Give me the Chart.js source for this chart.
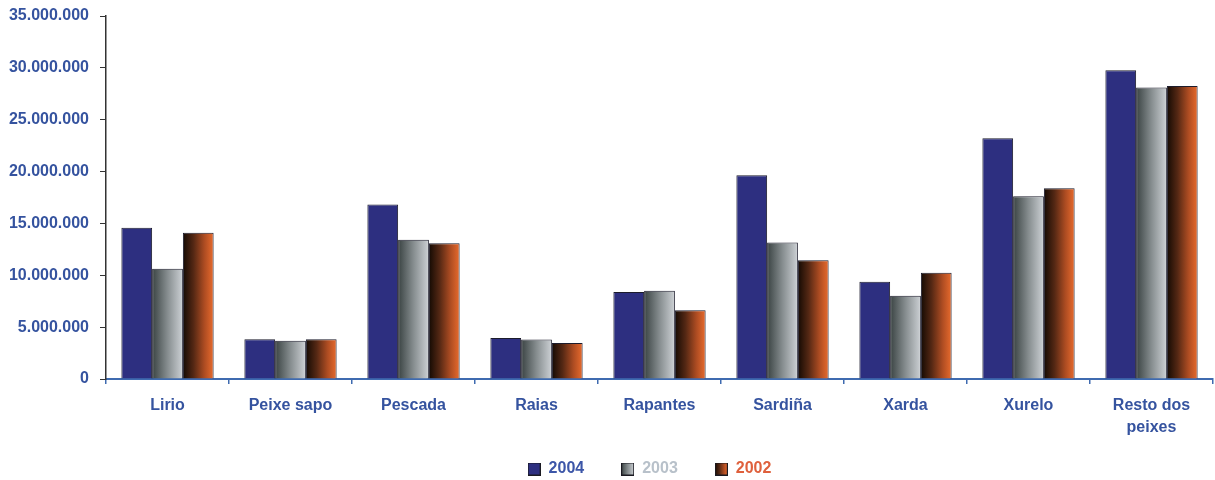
<!DOCTYPE html>
<html>
<head>
<meta charset="utf-8">
<script src="https://cdn.jsdelivr.net/npm/chart.js@4/dist/chart.umd.min.js"></script>
<style>
  html, body { margin: 0; padding: 0; background: #fff; }
  #wrap { width: 1215px; height: 480px; }
</style>
</head>
<body>
<div id="wrap"><canvas id="CHART"></canvas></div>
<script>
// DATA

const categories = ['Lirio', 'Peixe sapo', 'Pescada', 'Raias', 'Rapantes', 'Sardiña', 'Xarda', 'Xurelo', ['Resto dos', 'peixes']];
const years = ['2004', '2003', '2002'];

const values2004 = [14590000, 3830000, 16830000, 3950000, 8380000, 19650000, 9370000, 23220000, 29770000];
const values2003 = [10640000, 3690000, 13420000, 3820000, 8510000, 13170000, 8030000, 17630000, 28100000];
const values2002 = [14110000, 3830000, 13100000, 3470000, 6620000, 11460000, 10240000, 18400000, 28260000];

const yTicks = [0, 5000000, 10000000, 15000000, 20000000, 25000000, 30000000, 35000000];

// STYLE

const FONT = 'Arial, "Liberation Sans", sans-serif';
const LABEL_BLUE = '#35539f';
const legendColors = ['#3c56a8', '#b8c1ca', '#df603c'];

// horizontal gradient stops for each series (left -> right)
const barStops = [
    [[0, '#2d2f80'], [1, '#2d2f80']],
    [[0, '#3a4343'], [0.5, '#868d8f'], [1, '#cdd1d5']],
    [[0, '#140a03'], [0.35, '#552814'], [0.7, '#ad4c22'], [1, '#e96b2d']]
];

function fillGradient(ctx, left, width, stops) {
    const g = ctx.createLinearGradient(left, 0, left + width, 0);
    stops.forEach(s => g.addColorStop(s[0], s[1]));
    return g;
}

// small square used as legend marker
function makeBox(stops) {
    const c = document.createElement('canvas');
    c.width = 13;
    c.height = 13;
    const x = c.getContext('2d');
    x.fillStyle = fillGradient(x, 0, 13, stops);
    x.fillRect(0, 0, 13, 13);
    x.strokeStyle = '#1a1a22';
    x.lineWidth = 1;
    x.strokeRect(0.5, 0.5, 12, 12);
    return c;
}
const legendBoxes = barStops.map(makeBox);

// paint every bar with its own gradient, once its position is known
const gradientBars = {
    id: 'gradientBars',
    beforeDatasetDraw(chart, args) {
        const stops = barStops[args.index];
        const ctx = chart.ctx;
        args.meta.data.forEach(bar => {
            const left = bar.x - bar.width / 2;
            bar.options = Object.assign({}, bar.options, {
                backgroundColor: fillGradient(ctx, left, bar.width, stops)
            });
        });
    }
};

// legend sits a bit higher and left than chart.js puts it
const legendShift = {
    id: 'legendShift',
    afterLayout(chart) {
        const l = chart.legend;
        l.top -= 16;
        l.left -= 10;
        l.right -= 10;
    }
};

function formatNumber(v) {
    return String(v).replace(/\B(?=(\d{3})+(?!\d))/g, '.');
}

// CHART CREATION

const chart = new Chart(document.getElementById('CHART'), {
    type: 'bar',
    data: {
        labels: categories,
        datasets: [
            { label: years[0], data: values2004, backgroundColor: '#2d2f80' },
            { label: years[1], data: values2003, backgroundColor: '#868d8f' },
            { label: years[2], data: values2002, backgroundColor: '#ad4c22' }
        ]
    },
    options: {
        responsive: true,
        maintainAspectRatio: false,
        animation: false,
        datasets: {
            bar: {
                categoryPercentage: 0.75,
                barPercentage: 1,
                borderColor: '#1c1c2c',
                borderWidth: 1
            }
        },
        layout: { padding: { top: 16, right: 2, bottom: 0, left: 0 } },
        scales: {
            x: {
                grid: { drawOnChartArea: false, tickLength: 5, color: '#3f6bb0', lineWidth: 1.5 },
                border: { color: '#3f6bb0', width: 2 },
                ticks: {
                    color: LABEL_BLUE,
                    padding: 10,
                    maxRotation: 0,
                    font: { family: FONT, size: 16, weight: 'bold', lineHeight: 1.4 }
                },
                afterFit(scale) { scale.height = 61; }
            },
            y: {
                min: 0,
                max: 35000000,
                afterBuildTicks(scale) { scale.ticks = yTicks.map(v => ({ value: v })); },
                grid: { drawOnChartArea: false, tickLength: 6, color: '#333333' },
                border: { color: '#333333', width: 1.5 },
                ticks: {
                    color: LABEL_BLUE,
                    padding: 11,
                    font: { family: FONT, size: 16, weight: 'bold' },
                    callback: v => formatNumber(v)
                },
                afterFit(scale) {
                    scale.width = 106;
                    scale.paddingTop = 8;
                    scale.paddingBottom = 8;
                }
            }
        },
        plugins: {
            tooltip: { enabled: false },
            legend: {
                position: 'bottom',
                fullSize: false,
                maxHeight: 40,
                labels: {
                    usePointStyle: true,
                    pointStyleWidth: 13,
                    padding: 37,
                    font: { family: FONT, size: 16, weight: 'bold' },
                    generateLabels(chart) {
                        return chart.data.datasets.map((ds, i) => ({
                            text: ds.label,
                            fontColor: legendColors[i],
                            pointStyle: legendBoxes[i],
                            fillStyle: 'transparent',
                            strokeStyle: 'transparent',
                            lineWidth: 0,
                            hidden: !chart.isDatasetVisible(i),
                            datasetIndex: i
                        }));
                    }
                }
            }
        }
    },
    plugins: [gradientBars, legendShift]
});
</script>
</body>
</html>
